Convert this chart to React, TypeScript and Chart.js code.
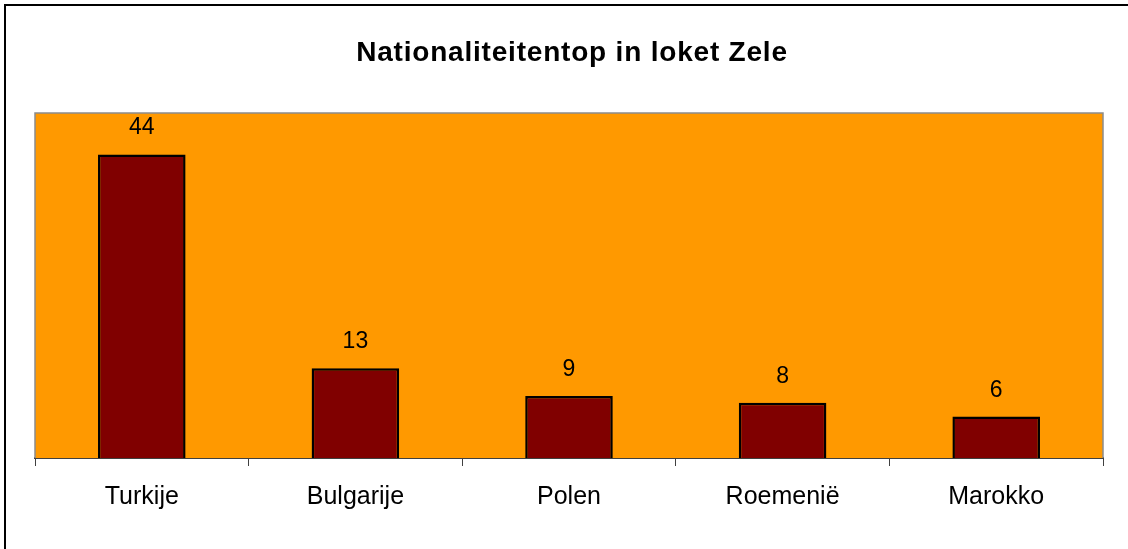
import React, { useEffect, useRef } from "react";
import { Chart, registerables } from "chart.js";

Chart.register(...registerables);

const TITLE = "Nationaliteitentop in loket Zele";
const categories = ["Turkije", "Bulgarije", "Polen", "Roemenië", "Marokko"];
const values = [44, 13, 9, 8, 6];
const Y_MAX = 50;

const FONT = '"Liberation Sans", Arial, sans-serif';

const decorPlugin = {
  id: "decor",
  beforeDatasetsDraw(chart: any) {
    const { ctx, chartArea } = chart;
    const { left, top, right, bottom } = chartArea;
    ctx.save();
    ctx.fillStyle = "#FF9900";
    ctx.fillRect(left, top, right - left, bottom - top);
    ctx.strokeStyle = "#8c8c8c";
    ctx.lineWidth = 1.5;
    ctx.beginPath();
    ctx.moveTo(left, bottom);
    ctx.lineTo(left, top);
    ctx.lineTo(right, top);
    ctx.lineTo(right, bottom);
    ctx.stroke();
    ctx.restore();
  },
  afterDraw(chart: any) {
    const { ctx } = chart;
    ctx.save();
    // outer frame
    ctx.strokeStyle = "#000000";
    ctx.lineWidth = 2;
    ctx.strokeRect(5, 5, 1140, 570);
    // title
    ctx.fillStyle = "#000000";
    ctx.font = `bold 28px ${FONT}`;
    (ctx as any).letterSpacing = "0.8px";
    ctx.textAlign = "center";
    ctx.textBaseline = "alphabetic";
    ctx.fillText(TITLE, 572, 61);
    (ctx as any).letterSpacing = "0px";
    // value labels
    const meta = chart.getDatasetMeta(0);
    ctx.font = `23px ${FONT}`;
    meta.data.forEach((bar: any, i: number) => {
      ctx.fillText(String(values[i]), bar.x, bar.y - 20);
    });
    ctx.restore();
  },
};

export default function App() {
  const ref = useRef<HTMLCanvasElement | null>(null);
  useEffect(() => {
    if (!ref.current) return;
    const chart = new Chart(ref.current, {
      type: "bar",
      data: {
        labels: categories,
        datasets: [
          {
            data: values,
            backgroundColor: "#800000",
            borderColor: "#000000",
            borderWidth: 2.5,
            categoryPercentage: 1,
            barPercentage: 0.41,
          },
        ],
      },
      options: {
        responsive: false,
        animation: false,
        layout: { padding: { left: 35, right: 25, top: 113, bottom: 0 } },
        plugins: {
          legend: { display: false },
          title: { display: false },
          tooltip: { enabled: false },
        },
        scales: {
          x: {
            offset: true,
            grid: {
              offset: true,
              display: true,
              drawOnChartArea: false,
              drawTicks: true,
              tickLength: 8,
              color: "#404040",
              lineWidth: 1,
            },
            border: { display: true, color: "#404040", width: 2 },
            ticks: {
              color: "#000000",
              font: { family: FONT, size: 25 },
              padding: 16,
              maxRotation: 0,
              autoSkip: false,
            },
            afterFit(scale: any) {
              scale.height = 91;
            },
          },
          y: {
            display: false,
            min: 0,
            max: Y_MAX,
          },
        },
      },
      plugins: [decorPlugin],
    });
    return () => chart.destroy();
  }, []);
  return (
    <div style={{ position: "absolute", left: 0, top: 0, width: 1128, height: 549, background: "#fff" }}>
      <canvas ref={ref} width={1128} height={549} />
    </div>
  );
}
